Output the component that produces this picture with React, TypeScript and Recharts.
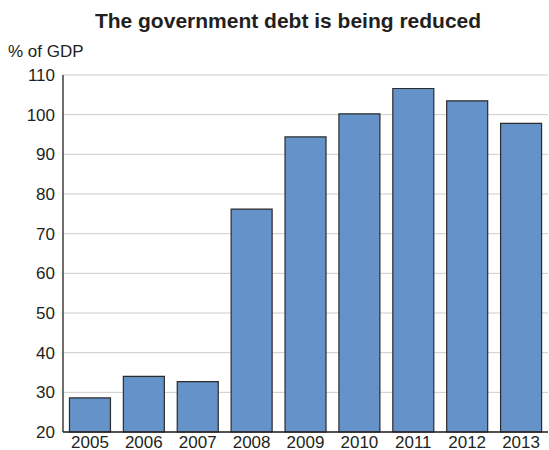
import { BarChart, Bar, XAxis, YAxis, CartesianGrid } from 'recharts';

const YEARS = ['2005', '2006', '2007', '2008', '2009', '2010', '2011', '2012', '2013'];
const DEBT = [28.6, 34.0, 32.7, 76.2, 94.4, 100.2, 106.6, 103.5, 97.8]; // % of GDP
const Y_TICKS = [20, 30, 40, 50, 60, 70, 80, 90, 100, 110];
const SEPARATORS = [1, 2, 3, 4, 5, 6, 7, 8];

const INK = '#231f20';
const FONT = '"Liberation Sans", Arial, sans-serif';

export default function App() {
  const data = YEARS.map((year, i) => ({ year, debt: DEBT[i] }));

  return (
    <div style={{ position: 'absolute', left: 0, top: 0, width: 549, height: 450, background: '#fff', fontFamily: FONT }}>
      <div
        style={{
          position: 'absolute', left: 0, top: 10, width: 576, textAlign: 'center',
          fontSize: 21, lineHeight: '21px', fontWeight: 'bold', color: INK,
        }}
      >
        The government debt is being reduced
      </div>
      <div style={{ position: 'absolute', left: 8, top: 43, fontSize: 17, lineHeight: '17px', color: INK }}>
        % of GDP
      </div>

      <BarChart
        width={549}
        height={450}
        data={data}
        margin={{ top: 75, right: 1, bottom: 0, left: 0 }}
        barCategoryGap="12%"
      >
        <CartesianGrid vertical={false} stroke="#cccccc" />
        <XAxis
          dataKey="year"
          height={18}
          tickLine={false}
          tickSize={0}
          tickMargin={4}
          axisLine={{ stroke: INK, strokeWidth: 1.3 }}
          tick={{ fill: INK, fontSize: 17, fontFamily: FONT }}
        />
        {/* small inner ticks between the bars */}
        <XAxis
          xAxisId="sep"
          type="number"
          domain={[0, 9]}
          ticks={SEPARATORS}
          height={0}
          mirror
          axisLine={false}
          tick={false}
          tickSize={4}
          tickLine={{ stroke: INK, strokeWidth: 1.2 }}
        />
        {/* top frame */}
        <XAxis
          xAxisId="top"
          dataKey="year"
          orientation="top"
          height={0}
          tick={false}
          tickLine={false}
          axisLine={{ stroke: INK, strokeWidth: 1.3 }}
        />
        <YAxis
          domain={[20, 110]}
          ticks={Y_TICKS}
          width={63}
          tickLine={false}
          tickSize={0}
          tickMargin={8}
          axisLine={{ stroke: INK, strokeWidth: 1.3 }}
          tick={{ fill: INK, fontSize: 17, fontFamily: FONT }}
        />
        {/* right frame */}
        <YAxis
          yAxisId="right"
          orientation="right"
          type="number"
          domain={[0, 1]}
          width={0}
          tick={false}
          tickLine={false}
          axisLine={{ stroke: INK, strokeWidth: 1.3 }}
        />
        <Bar
          dataKey="debt"
          fill="#6492c9"
          stroke="#2b2b2b"
          strokeWidth={1.2}
          isAnimationActive={false}
        />
      </BarChart>
    </div>
  );
}
